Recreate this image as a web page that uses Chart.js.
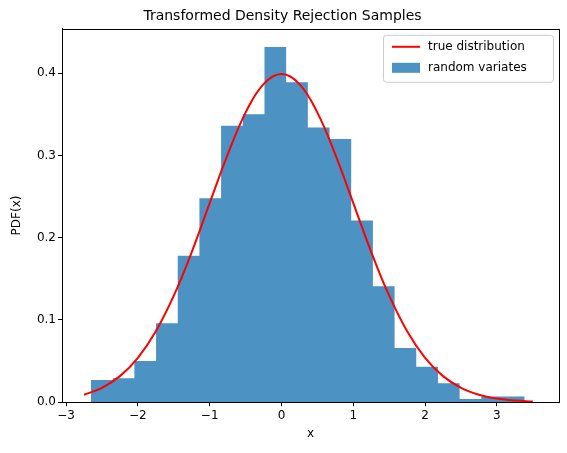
<!DOCTYPE html>
<html><head><meta charset="utf-8">
<script src="https://cdn.jsdelivr.net/npm/chart.js@4"></script>
<style>html,body{margin:0;padding:0;background:#fff}#w{width:567px;height:453px}</style>
</head><body><div id="w"><canvas id="c"></canvas></div>
<script>
const binEdges=[-2.653,-2.351,-2.049,-1.747,-1.445,-1.143,-0.841,-0.539,-0.237,0.065,0.367,0.669,0.971,1.273,1.575,1.877,2.179,2.481,2.783,3.085,3.387];
const binHeights=[0.027,0.029,0.050,0.096,0.178,0.248,0.336,0.350,0.432,0.389,0.334,0.320,0.221,0.141,0.066,0.043,0.023,0.004,0.007,0.007];
const curveX=[-2.75,-2.5,-2.25,-2,-1.75,-1.5,-1.25,-1,-0.75,-0.5,-0.25,0,0.25,0.5,0.75,1,1.25,1.5,1.75,2,2.25,2.5,2.75,3,3.25,3.5];
const curveY=[0.0091,0.0175,0.0317,0.054,0.0863,0.1295,0.1826,0.242,0.3011,0.3521,0.3867,0.3989,0.3867,0.3521,0.3011,0.242,0.1826,0.1295,0.0863,0.054,0.0317,0.0175,0.0091,0.0044,0.002,0.0009];
const xTicks=[-3,-2,-1,0,1,2,3];
const yTicks=[0,0.1,0.2,0.3,0.4];

const histPts=binEdges.map((e,i)=>({x:e,y:i<binHeights.length?binHeights[i]:binHeights[binHeights.length-1]}));
const curvePts=curveX.map((x,i)=>({x,y:curveY[i]}));
const font={family:'DejaVu Sans',size:12};

const frame={id:'frame',afterDatasetsDraw(ch){const a=ch.chartArea,c=ch.ctx;c.save();c.strokeStyle='#000';c.lineWidth=1;c.strokeRect(Math.round(a.left)+0.5,Math.round(a.top)+0.5,Math.round(a.right-a.left),Math.round(a.bottom-a.top));
 const w=170,h=47,x=a.right-w-6,y=a.top+6;
 c.fillStyle='rgba(255,255,255,0.8)';c.strokeStyle='#ccc';c.beginPath();c.roundRect(x+0.5,y+0.5,w,h,3);c.fill();c.stroke();
 c.font='12px DejaVu Sans';c.textBaseline='middle';c.fillStyle='#000';
 const ds=ch.data.datasets;
 c.strokeStyle=ds[1].borderColor;c.lineWidth=2;c.beginPath();c.moveTo(x+9,y+12);c.lineTo(x+37,y+12);c.stroke();
 c.fillText(ds[1].label,x+45,y+12);
 c.fillStyle=ds[0].backgroundColor;c.fillRect(x+9,y+28,28,10);
 c.fillStyle='#000';c.fillText(ds[0].label,x+45,y+33);
 c.restore();}};

new Chart(document.getElementById('c'),{
 type:'line',
 data:{datasets:[
  {label:'random variates',data:histPts,stepped:'before',fill:'origin',backgroundColor:'rgba(31,119,180,0.8)',borderWidth:0,pointRadius:0,order:2},
  {label:'true distribution',data:curvePts,borderColor:'#ff0000',borderWidth:2,pointRadius:0,tension:0.4,fill:false,order:1}
 ]},
 options:{responsive:true,maintainAspectRatio:false,animation:false,
  layout:{padding:{left:6,right:8,top:2,bottom:8}},
  plugins:{legend:{display:false},tooltip:{enabled:false},
   title:{display:true,text:'Transformed Density Rejection Samples',font:{family:'DejaVu Sans',size:14,weight:'normal'},color:'#000',padding:{top:6,bottom:4}}},
  scales:{
   x:{type:'linear',min:-3.057,max:3.865,grid:{drawOnChartArea:false,drawTicks:true,tickLength:4,color:'#000'},border:{color:'#000'},
    afterBuildTicks(s){s.ticks=xTicks.map(v=>({value:v}));},
    ticks:{font,color:'#000',padding:2,callback:v=>String(v).replace('-','−')},
    title:{display:true,text:'x',font,color:'#000',padding:{top:2}}},
   y:{min:0,max:0.454,afterFit(s){s.width=56;},grid:{drawOnChartArea:false,tickLength:4,color:'#000'},border:{color:'#000'},
    afterBuildTicks(s){s.ticks=yTicks.map(v=>({value:v}));},
    ticks:{font,color:'#000',padding:2,callback:v=>v.toFixed(1)},
    title:{display:true,text:'PDF(x)',font,color:'#000'}}
  }},
 plugins:[frame]
});
</script></body></html>
